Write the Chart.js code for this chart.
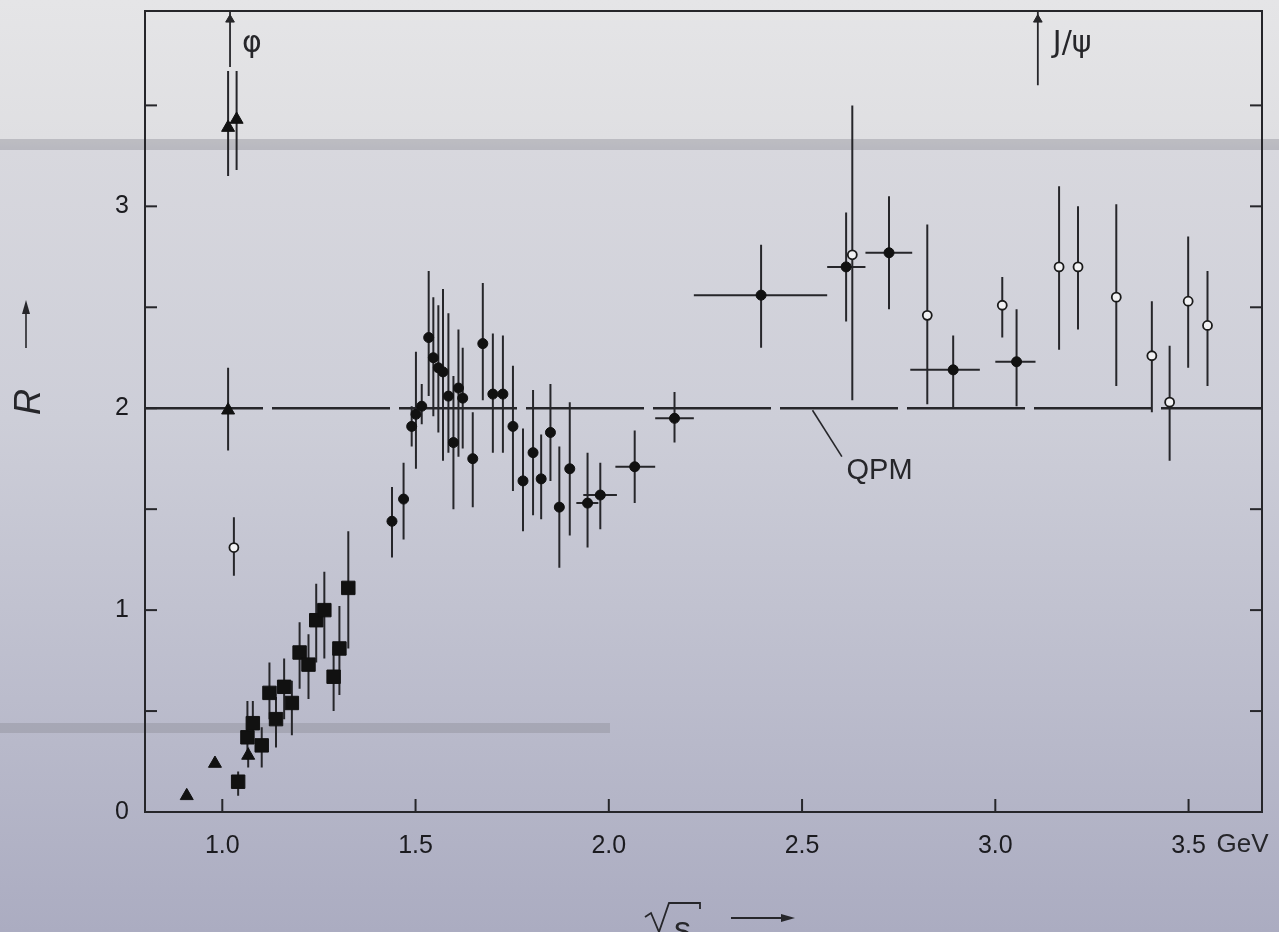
<!DOCTYPE html>
<html>
<head>
<meta charset="utf-8">
<script src="https://cdn.jsdelivr.net/npm/chart.js@4.4.1/dist/chart.umd.min.js"></script>
<style>
  html, body { margin: 0; padding: 0; background: #c8c9d4; }
  #wrap { width: 1279px; height: 932px; position: relative; }
</style>
</head>
<body>
<div id="wrap"><canvas id="rChart" width="1279" height="932"></canvas></div>
<script>
// --- data (sqrt(s) in GeV, R) ---
// triangles
const triX = [0.908, 0.981, 1.067, 1.015, 1.015, 1.037];
const triY = [0.08, 0.24, 0.28, 1.99, 3.39, 3.43];
const triLo = [null, null, 0.22, 1.79, 3.15, 3.18];
const triHi = [null, null, 0.32, 2.20, 3.67, 3.67];

// squares
const sqX = [1.041, 1.065, 1.079, 1.102, 1.122, 1.139, 1.160, 1.180, 1.200, 1.223, 1.243, 1.264, 1.288, 1.303, 1.326];
const sqY = [0.15, 0.37, 0.44, 0.33, 0.59, 0.46, 0.62, 0.54, 0.79, 0.73, 0.95, 1.00, 0.67, 0.81, 1.11];
const sqLo = [0.08, 0.26, 0.39, 0.22, 0.46, 0.32, 0.46, 0.38, 0.61, 0.56, 0.74, 0.76, 0.50, 0.58, 0.81];
const sqHi = [0.20, 0.55, 0.55, 0.42, 0.74, 0.57, 0.76, 0.65, 0.94, 0.88, 1.13, 1.19, 0.82, 1.02, 1.39];

// filled dots (scan points)
const dotX = [1.439, 1.469, 1.490, 1.501, 1.516, 1.534, 1.546, 1.559, 1.571, 1.585, 1.598, 1.611, 1.622, 1.648, 1.674, 1.700, 1.726, 1.752, 1.778, 1.804, 1.825, 1.849, 1.872, 1.899];
const dotY = [1.44, 1.55, 1.91, 1.97, 2.01, 2.35, 2.25, 2.20, 2.18, 2.06, 1.83, 2.10, 2.05, 1.75, 2.32, 2.07, 2.07, 1.91, 1.64, 1.78, 1.65, 1.88, 1.51, 1.70];
const dotLo = [1.26, 1.35, 1.81, 1.70, 1.92, 2.06, 1.96, 1.88, 1.74, 1.78, 1.50, 1.76, 1.80, 1.51, 2.04, 1.78, 1.78, 1.59, 1.39, 1.47, 1.45, 1.64, 1.21, 1.37];
const dotHi = [1.61, 1.73, 2.01, 2.28, 2.12, 2.68, 2.55, 2.51, 2.59, 2.47, 2.16, 2.39, 2.30, 1.98, 2.62, 2.37, 2.36, 2.21, 1.90, 2.09, 1.87, 2.12, 1.81, 2.03];

// filled dots with energy bins
const binX = [1.945, 1.978, 2.067, 2.170, 2.394, 2.614, 2.725, 2.891, 3.055];
const binY = [1.53, 1.57, 1.71, 1.95, 2.56, 2.70, 2.77, 2.19, 2.23];
const binLo = [1.31, 1.40, 1.53, 1.83, 2.30, 2.43, 2.49, 2.00, 2.01];
const binHi = [1.78, 1.73, 1.89, 2.08, 2.81, 2.97, 3.05, 2.36, 2.49];
const binXLo = [1.916, 1.934, 2.017, 2.120, 2.220, 2.565, 2.664, 2.780, 3.000];
const binXHi = [1.973, 2.021, 2.120, 2.220, 2.565, 2.664, 2.785, 2.960, 3.104];

// open circles
const openX = [1.030, 2.630, 2.824, 3.018, 3.165, 3.214, 3.313, 3.405, 3.451, 3.499, 3.549];
const openY = [1.31, 2.76, 2.46, 2.51, 2.70, 2.70, 2.55, 2.26, 2.03, 2.53, 2.41];
const openLo = [1.17, 2.04, 2.02, 2.35, 2.29, 2.39, 2.11, 1.98, 1.74, 2.20, 2.11];
const openHi = [1.46, 3.50, 2.91, 2.65, 3.10, 3.00, 3.01, 2.53, 2.31, 2.85, 2.68];

// quark parton model level and resonance markers
const qpmLevel = 2;
const resX = [1.02, 3.11];
const resLabels = ["φ", "J/ψ"];
const resBottom = [3.69, 3.60];

// axes
const xMin = 0.80, xMax = 3.69;
const yMin = 0, yMax = 3.97;
const xTicks = [1.0, 1.5, 2.0, 2.5, 3.0, 3.5];
const yTicks = [0.5, 1, 1.5, 2, 2.5, 3, 3.5];
const yLabels = [0, 1, 2, 3];

const ink = "#26262a";
const sans = "'Liberation Sans', Arial, sans-serif";
const tickFont = { family: sans, size: 25 };

// error bars as broken lines (null breaks the line)
function vBars(xs, lo, hi) {
  const pts = [];
  xs.forEach((x, i) => {
    if (lo[i] == null) return;
    pts.push({ x: x, y: lo[i] }, { x: x, y: hi[i] }, { x: x, y: null });
  });
  return pts;
}
function hBars(ys, xlo, xhi) {
  const pts = [];
  ys.forEach((y, i) => {
    pts.push({ x: xlo[i], y: y }, { x: xhi[i], y: y }, { x: xhi[i], y: null });
  });
  return pts;
}
const zip = (xs, ys) => xs.map((x, i) => ({ x: x, y: ys[i] }));

const barStyle = {
  type: "line",
  borderColor: ink,
  borderWidth: 2,
  pointRadius: 0,
  spanGaps: false,
  showLine: true,
  order: 2,
};

// background: scanned slide look
const paper = {
  id: "paper",
  beforeDraw(chart) {
    const ctx = chart.ctx;
    const g = ctx.createLinearGradient(0, 0, 0, chart.height);
    g.addColorStop(0, "#e5e5e7");
    g.addColorStop(0.15, "#dfdfe2");
    g.addColorStop(0.161, "#d8d8de");
    g.addColorStop(0.45, "#cdced8");
    g.addColorStop(0.75, "#bbbccc");
    g.addColorStop(1, "#abacc1");
    ctx.save();
    ctx.fillStyle = g;
    ctx.fillRect(0, 0, chart.width, chart.height);
    ctx.fillStyle = "rgba(140,140,150,0.42)";
    ctx.fillRect(0, 139, chart.width, 11);
    ctx.fillRect(0, 723, 610, 10);
    ctx.restore();
  },
};

// inward tick marks, labels and axis titles
const decor = {
  id: "decor",
  afterDraw(chart) {
    const { ctx, chartArea: a } = chart;
    const x = chart.scales.x, y = chart.scales.y;
    const seg = (x1, y1, x2, y2) => {
      ctx.beginPath(); ctx.moveTo(x1, y1); ctx.lineTo(x2, y2); ctx.stroke();
    };
    ctx.save();
    ctx.strokeStyle = ink;
    ctx.fillStyle = ink;
    ctx.lineWidth = 2;

    yTicks.forEach((v) => {
      const py = y.getPixelForValue(v);
      seg(a.left, py, a.left + 12, py);
      seg(a.right, py, a.right - 12, py);
    });
    xTicks.forEach((v) => {
      const px = x.getPixelForValue(v);
      seg(px, a.bottom, px, a.bottom - 13);
    });

    // GeV unit after the last tick label
    ctx.font = "26px " + sans;
    ctx.textAlign = "left";
    ctx.textBaseline = "top";
    ctx.fillText("GeV", x.getPixelForValue(3.5) + 28, a.bottom + 20);

    // resonance labels
    ctx.font = "30px 'DejaVu Sans', sans-serif";
    ctx.textBaseline = "middle";
    ctx.fillText(resLabels[0], x.getPixelForValue(resX[0]) + 12, 44);
    ctx.fillText(resLabels[1], x.getPixelForValue(resX[1]) + 15, 44);

    // QPM label
    ctx.font = "29px " + sans;
    ctx.fillText("QPM", x.getPixelForValue(2.615), y.getPixelForValue(1.69));

    // y title: rotated R with arrow
    ctx.save();
    ctx.translate(30, 402);
    ctx.rotate(-Math.PI / 2);
    ctx.font = "italic 36px " + sans;
    ctx.textAlign = "center";
    ctx.textBaseline = "middle";
    ctx.fillText("R", 0, 0);
    ctx.restore();
    ctx.lineWidth = 1.6;
    seg(26, 348, 26, 312);
    ctx.beginPath(); ctx.moveTo(26, 300); ctx.lineTo(22, 314); ctx.lineTo(30, 314); ctx.closePath(); ctx.fill();

    // x title: sqrt(s) with arrow
    ctx.lineWidth = 1.8;
    ctx.beginPath();
    ctx.moveTo(645, 917); ctx.lineTo(651, 913); ctx.lineTo(659, 932);
    ctx.lineTo(669, 903); ctx.lineTo(700, 903); ctx.lineTo(700, 909);
    ctx.stroke();
    ctx.font = "34px " + sans;
    ctx.textAlign = "left";
    ctx.textBaseline = "alphabetic";
    ctx.fillText("s", 674, 940);
    seg(731, 918, 782, 918);
    ctx.beginPath(); ctx.moveTo(795, 918); ctx.lineTo(781, 914); ctx.lineTo(781, 922); ctx.closePath(); ctx.fill();
    ctx.restore();
  },
};

const noPad = (s) => {
  s.paddingTop = 0; s.paddingBottom = 0; s.paddingLeft = 0; s.paddingRight = 0;
};

const frameAxis = (pos, size) => ({
  type: "linear",
  position: pos,
  min: pos === "top" ? xMin : yMin,
  max: pos === "top" ? xMax : yMax,
  grid: { display: false, drawTicks: false },
  border: { display: true, color: ink, width: 2 },
  ticks: { display: false },
  afterFit: (s) => {
    if (pos === "top") s.height = size; else s.width = size;
    noPad(s);
  },
});

new Chart(document.getElementById("rChart"), {
  type: "scatter",
  data: {
    datasets: [
      // markers
      {
        data: zip(triX, triY), pointStyle: "triangle", pointRadius: 7.5,
        backgroundColor: "#111", borderColor: "#111", borderWidth: 1, order: 0,
      },
      {
        data: zip(sqX, sqY), pointStyle: "rect", pointRadius: 9.5,
        backgroundColor: "#111", borderColor: "#111", borderWidth: 1, order: 0,
      },
      {
        data: zip(dotX, dotY), pointStyle: "circle", pointRadius: 5,
        backgroundColor: "#111", borderColor: "#111", borderWidth: 1, order: 0,
      },
      {
        data: zip(binX, binY), pointStyle: "circle", pointRadius: 5,
        backgroundColor: "#111", borderColor: "#111", borderWidth: 1, order: 0,
      },
      {
        data: zip(openX, openY), pointStyle: "circle", pointRadius: 4.5,
        backgroundColor: "#f2f2f4", borderColor: "#1a1a1a", borderWidth: 1.8, order: 0,
      },
      // resonance arrow heads
      {
        data: resX.map((x) => ({ x: x, y: 3.925 })), pointStyle: "triangle", pointRadius: 5,
        backgroundColor: ink, borderColor: ink, borderWidth: 1, order: 0,
      },
      // error bars
      { ...barStyle, data: vBars(triX, triLo, triHi) },
      { ...barStyle, data: vBars(sqX, sqLo, sqHi) },
      { ...barStyle, data: vBars(dotX, dotLo, dotHi) },
      { ...barStyle, data: vBars(binX, binLo, binHi) },
      { ...barStyle, data: hBars(binY, binXLo, binXHi) },
      { ...barStyle, data: vBars(openX, openLo, openHi) },
      // resonance arrow shafts
      { ...barStyle, borderWidth: 1.8, data: vBars(resX, resBottom, resX.map(() => yMax)) },
      // QPM prediction and its leader line
      {
        ...barStyle, order: 3, borderWidth: 2.5, borderDash: [118, 9],
        data: [{ x: xMin, y: qpmLevel }, { x: xMax, y: qpmLevel }],
      },
      {
        ...barStyle, order: 3, borderWidth: 1.6,
        data: [{ x: 2.527, y: 1.99 }, { x: 2.603, y: 1.76 }],
      },
    ],
  },
  options: {
    responsive: false,
    animation: false,
    devicePixelRatio: 1,
    events: [],
    layout: { padding: 0 },
    plugins: { legend: { display: false }, tooltip: { enabled: false } },
    scales: {
      x: {
        type: "linear",
        position: "bottom",
        min: xMin,
        max: xMax,
        grid: { display: false, drawTicks: false },
        border: { display: true, color: ink, width: 2 },
        afterBuildTicks: (s) => { s.ticks = xTicks.map((v) => ({ value: v })); },
        ticks: {
          padding: 19,
          color: "#1b1b1f",
          font: tickFont,
          maxRotation: 0,
          autoSkip: false,
          callback: (v) => v.toFixed(1),
        },
        afterFit: (s) => { s.height = 120; noPad(s); },
      },
      y: {
        type: "linear",
        position: "left",
        min: yMin,
        max: yMax,
        grid: { display: false, drawTicks: false },
        border: { display: true, color: ink, width: 2 },
        afterBuildTicks: (s) => { s.ticks = yLabels.map((v) => ({ value: v })); },
        ticks: { padding: 16, color: "#1b1b1f", font: tickFont, callback: (v) => String(v) },
        afterFit: (s) => { s.width = 145; noPad(s); },
      },
      x2: frameAxis("top", 10),
      y2: frameAxis("right", 17),
    },
  },
  plugins: [paper, decor],
});
</script>
</body>
</html>
